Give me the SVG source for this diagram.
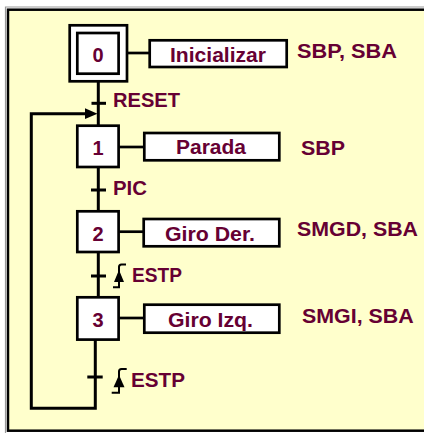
<svg xmlns="http://www.w3.org/2000/svg" width="424" height="433" viewBox="0 0 424 433">
<style>
.box{fill:#FFFFFF;stroke:#000;stroke-width:2.7}
.ln{fill:none;stroke:#000;stroke-width:3}
.al{fill:none;stroke:#000;stroke-width:2.7}
.t{font-family:"Liberation Sans",Arial,sans-serif;font-weight:bold;font-size:20px;fill:#660033}
.m{text-anchor:middle}
.edge{fill:none;stroke:#000;stroke-width:2}
</style>
<g id="frame">
<path d="M5.5 440 V7 H440" fill="none" stroke="#999" stroke-width="1.2"/>
<rect x="8" y="9.7" width="430" height="421" fill="#FFFFCC" stroke="#000" stroke-width="2.5"/>
</g>
<g id="connectors">
<line class="ln" x1="98.3" y1="82" x2="98.3" y2="125"/>
<line class="ln" x1="98.3" y1="167" x2="98.3" y2="211"/>
<line class="ln" x1="98.3" y1="252" x2="98.3" y2="297"/>
<path class="ln" d="M95.3 340 V408.3 H31.3 V113.7 H87"/>
<polygon points="85,108.3 97.5,113.7 85,119.1" fill="#000"/>
<line class="al" x1="127" y1="53" x2="150" y2="53"/>
<line class="al" x1="119" y1="147" x2="144" y2="147"/>
<line class="al" x1="119" y1="231.7" x2="144" y2="231.7"/>
<line class="al" x1="119" y1="318" x2="144" y2="318"/>
</g>
<g id="step0">
<rect class="box" x="69.7" y="25.3" width="57.3" height="56"/>
<rect class="box" x="77.3" y="33" width="41.3" height="40.7"/>
<text class="t m" x="98" y="62.3">0</text>
</g>
<g id="action0">
<rect class="box" x="149.7" y="40.3" width="137" height="26.7"/>
<text class="t" x="170" y="61.5" textLength="96" lengthAdjust="spacingAndGlyphs">Inicializar</text>
<text class="t" x="297" y="58.3" textLength="100" lengthAdjust="spacingAndGlyphs">SBP, SBA</text>
</g>
<g id="trans01">
<line class="ln" x1="91.5" y1="103.3" x2="106" y2="103.3"/>
<text class="t" x="113" y="107" textLength="67" lengthAdjust="spacingAndGlyphs">RESET</text>
</g>
<g id="step1">
<rect class="box" x="77.3" y="125.7" width="41.3" height="41.3"/>
<text class="t m" x="98" y="155">1</text>
</g>
<g id="action1">
<rect class="box" x="144.3" y="133" width="135" height="27.3"/>
<text class="t" x="176" y="154" textLength="70" lengthAdjust="spacingAndGlyphs">Parada</text>
<text class="t" x="301" y="155" textLength="44" lengthAdjust="spacingAndGlyphs">SBP</text>
</g>
<g id="trans12">
<line class="ln" x1="91" y1="190" x2="106" y2="190"/>
<text class="t" x="113" y="195" textLength="34" lengthAdjust="spacingAndGlyphs">PIC</text>
</g>
<g id="step2">
<rect class="box" x="77.3" y="211.3" width="41.3" height="40.7"/>
<text class="t m" x="98" y="241">2</text>
</g>
<g id="action2">
<rect class="box" x="143.7" y="219" width="135.6" height="27.3"/>
<text class="t" x="165" y="241" textLength="90" lengthAdjust="spacingAndGlyphs">Giro Der.</text>
<text class="t" x="297" y="236" textLength="121" lengthAdjust="spacingAndGlyphs">SMGD, SBA</text>
</g>
<g id="trans23">
<line class="ln" x1="91" y1="276" x2="106" y2="276"/>
<path class="edge" d="M113 287.3 H119 V267 Q119 264.5 121.5 264.5 H126"/>
<polygon points="119,270 114,282 124,282" fill="#000"/>
<text class="t" x="132" y="282" textLength="50" lengthAdjust="spacingAndGlyphs">ESTP</text>
</g>
<g id="step3">
<rect class="box" x="77.3" y="297.3" width="41.3" height="42.3"/>
<text class="t m" x="98" y="326.7">3</text>
</g>
<g id="action3">
<rect class="box" x="144.3" y="304.7" width="135" height="28"/>
<text class="t" x="168" y="327.3" textLength="85" lengthAdjust="spacingAndGlyphs">Giro Izq.</text>
<text class="t" x="302" y="322.5" textLength="111.7" lengthAdjust="spacingAndGlyphs">SMGI, SBA</text>
</g>
<g id="trans30">
<line class="ln" x1="87.3" y1="377" x2="102.7" y2="377"/>
<path class="edge" d="M111.7 392.7 H119 V371.5 Q119 369 121.5 369 H126.7"/>
<polygon points="119,375 113.5,387.3 124.5,387.3" fill="#000"/>
<text class="t" x="131" y="386.7" textLength="54" lengthAdjust="spacingAndGlyphs">ESTP</text>
</g>
</svg>
